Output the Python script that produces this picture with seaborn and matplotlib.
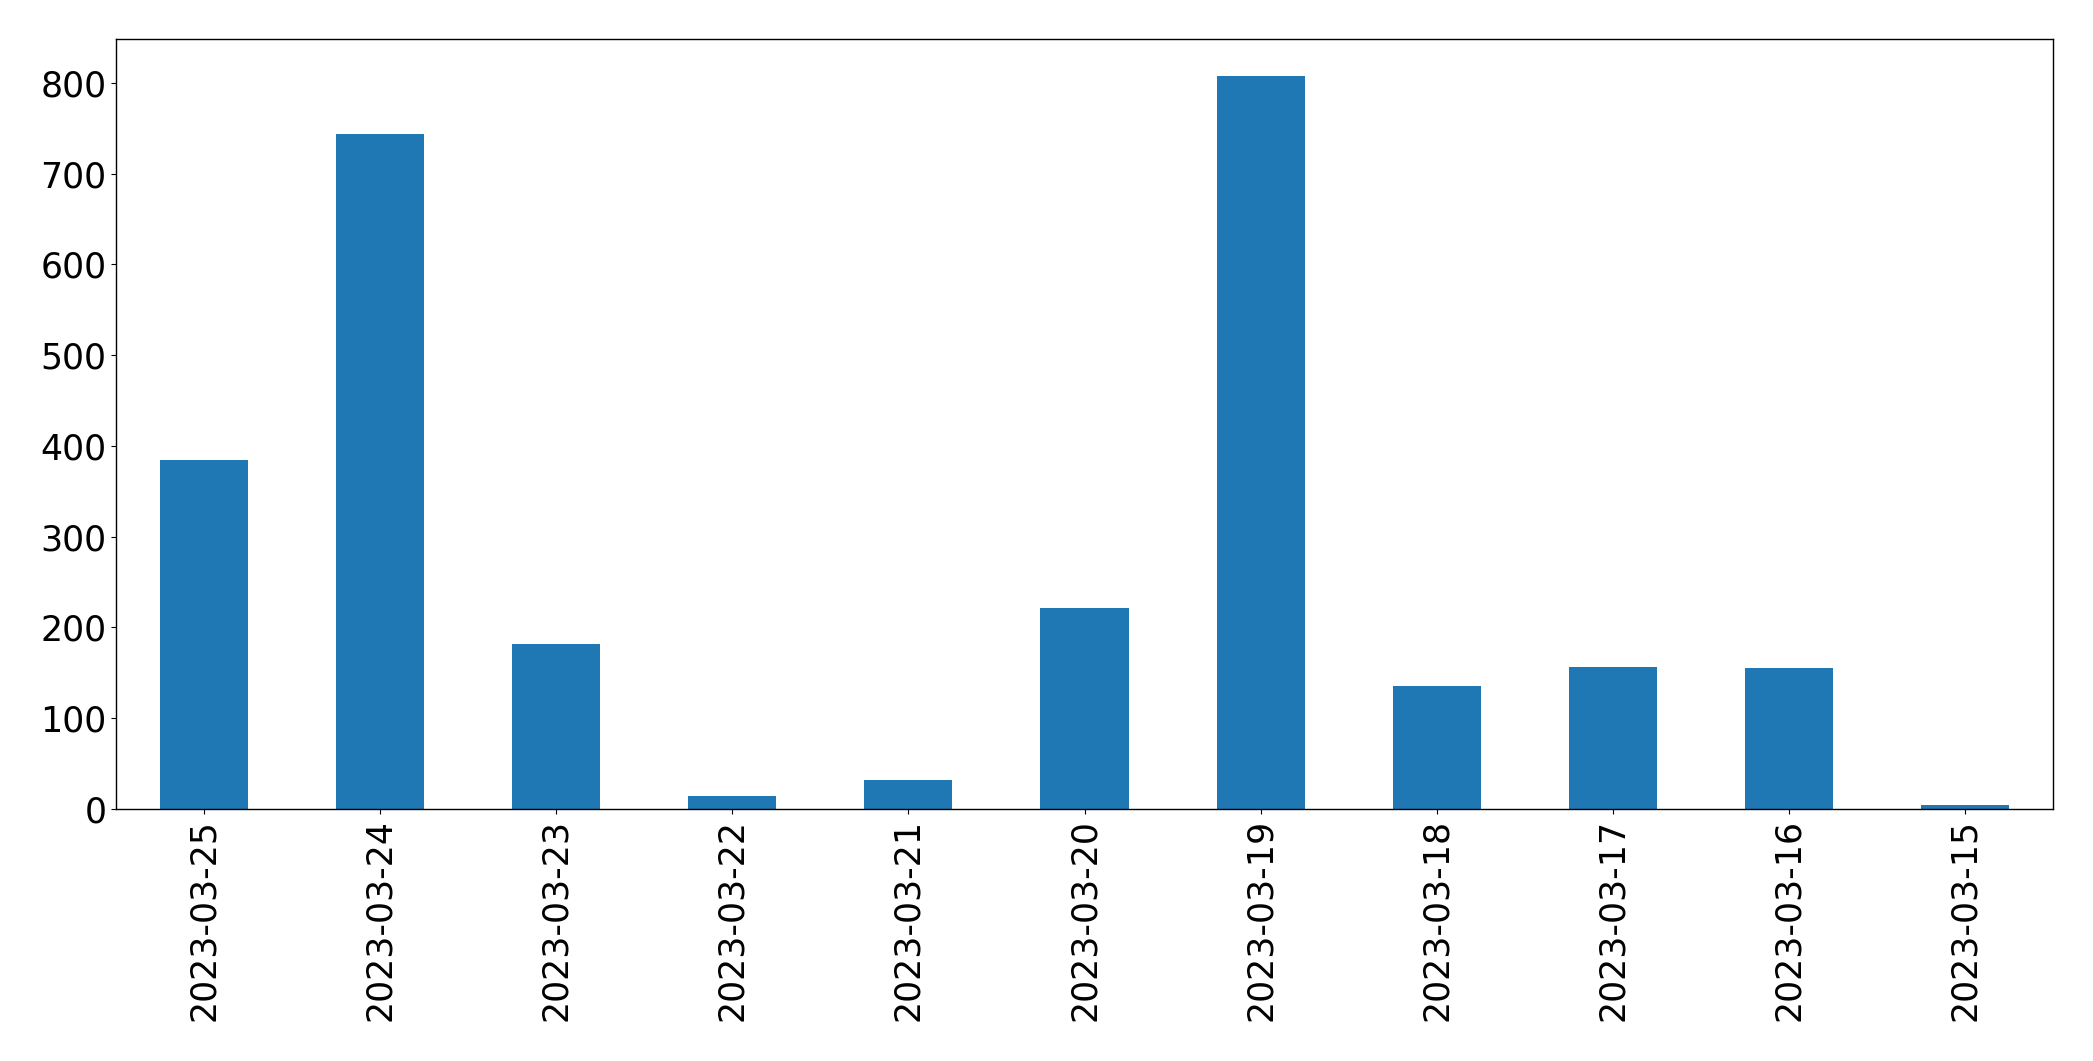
import matplotlib
matplotlib.use("Agg")
import matplotlib.pyplot as plt
import seaborn as sns
import pandas as pd

dates = ["2023-03-25", "2023-03-24", "2023-03-23", "2023-03-22", "2023-03-21",
         "2023-03-20", "2023-03-19", "2023-03-18", "2023-03-17", "2023-03-16",
         "2023-03-15"]
counts = [384, 744, 182, 14, 32, 221, 808, 136, 157, 155, 4]

df = pd.DataFrame({"date": dates, "count": counts})

fig = plt.figure(figsize=(20.93, 10.61), dpi=100)
ax = fig.add_axes([116 / 2093, 1 - 809 / 1061, (2053 - 116) / 2093, (809 - 39) / 1061])
sns.barplot(data=df, x="date", y="count", order=dates, color="#1f77b4",
            saturation=1, width=0.5, ax=ax)
ax.set_xlim(-0.5, len(dates) - 0.5)
ax.set_ylim(0, max(counts) * 1.05)
ax.set_xlabel("")
ax.set_ylabel("")
for s in ax.spines.values():
    s.set_color("black")
    s.set_linewidth(1.0)
ax.tick_params(axis="both", labelsize=25, colors="black")
ax.tick_params(axis="x", labelrotation=90)
fig.savefig("out.png", dpi=100)
